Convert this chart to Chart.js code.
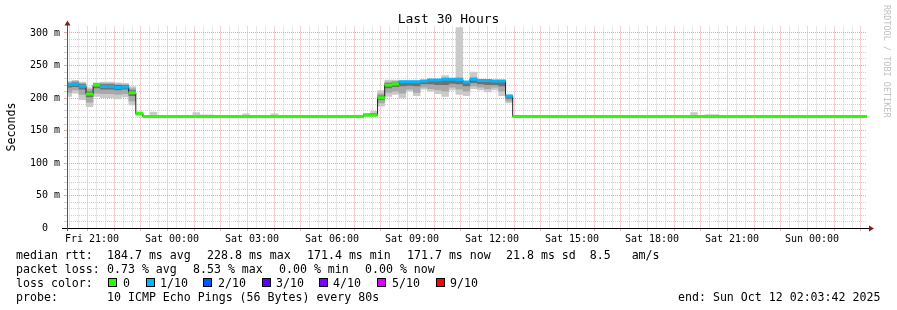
<!DOCTYPE html>
<html><head><meta charset="utf-8">
<script src="https://cdn.jsdelivr.net/npm/chart.js@4/dist/chart.umd.min.js"></script>
<style>
html,body{margin:0;padding:0;background:#fff;}
#wrap{position:relative;width:897px;height:310px;overflow:hidden;font-family:"DejaVu Sans Mono",monospace;color:#000;}
canvas{position:absolute;left:0;top:0;}
.t{position:absolute;white-space:pre;font-size:11.6px;line-height:14px;}
.box{position:absolute;width:7px;height:7px;border:1px solid #000;}
</style></head><body>
<div id="wrap">
<canvas id="c" width="897" height="310"></canvas>
<div class="t" style="left:0;width:897px;text-align:center;top:11px;font-size:13px;line-height:15px">Last 30 Hours</div>
<div class="t" style="left:-39px;width:100px;text-align:center;top:120px;transform:rotate(-90deg)">Seconds</div>
<div class="t" style="left:891px;top:5px;font-size:8.5px;line-height:8.5px;color:#c0c0c0;transform-origin:0 0;transform:rotate(90deg)">RRDTOOL / TOBI OETIKER</div>
<div id="legend"></div>
</div>
<script>
// ---- data (bins of 16 min; bin k=-1..111, first bin centre 2.8 min after window start Fri 20:03:42) ----
const median = [221,221,218,206,220,217.5,217.5,216,217,208,176.4,
 171.4,171.4,171.4,171.4,171.4,171.4,171.4,171.4,171.4,171.4,171.4,171.4,171.4,171.4,171.4,171.4,171.4,171.4,171.4,171.4,171.4,171.4,171.4,171.4,171.4,171.4,171.4,171.4,171.4,171.4,171.4,
 174,174,200.5,220,221.5,225,225,225,226,227.7,227.7,228.7,228.7,228,224.6,228.7,227,227,226,226,203,
 171.4,171.4,171.4,171.4,171.4,171.4,171.4,171.4,171.4,171.4,171.4,171.4,171.4,171.4,171.4,171.4,171.4,171.4,171.4,171.4,171.4,171.4,171.4,171.4,171.4,
 171.4,171.4,171.4,171.4,171.4,171.4,171.4,171.4,171.4,171.4,171.4,171.4,171.4,171.4,171.4,171.4,171.4,171.4,171.4,171.4,171.4,171.4,171.4,171.4,171.7];
const lossTenths = [1,1,1,0,0,1,1,1,1,0,0,
 0,0,0,0,0,0,0,0,0,0,0,0,0,0,0,0,0,0,0,0,0,0,0,0,0,0,0,0,0,0,0,
 0,0,0,0,0,1,1,1,1,1,1,1,1,1,1,1,1,1,1,1,1,
 0,0,0,0,0,0,0,0,0,0,0,0,0,0,0,0,0,0,0,0,0,0,0,0,0,
 0,0,0,0,0,0,0,0,0,0,0,0,0,0,0,0,0,0,0,0,0,0,0,0,0];
const smokeMin = [202,207,197,186,202,200,200,198,201,189,172,
 171,171,171,171,171,171,171,171,171,171,171,171,171,171,171,171,171,171,171,171,171,171,171,171,171,171,171,171,171,171,171,
 171,171,187,202,205,199.5,210,203,213,210,206,202,212,205,203,214,212,209,212,203,192,
 171,171,171,171,171,171,171,171,171,171,171,171,171,171,171,171,171,171,171,171,171,171,171,171,171,
 171,171,171,171,171,171,171,171,171,171,171,171,171,171,171,171,171,171,171,171,171,171,171,171,171];
const smokeMax = [226,227.7,225,216,224,225,225,224,223,218,179,
 172,179,172,172,172,172,172,178,174.5,174.5,172,172,172,172,176,172,172,172,176,172,172,172,172,172,172,174,172,172,172,172,172,
 177,180,212,228,228,227,227,227,228,229,229,235,230,309,226,240.5,229,229,228,228,205,
 172,174,172,172,172,172,172,172,172,172,172,172,172,172,172,172,172,172,172,172,172,172,172,172,172,
 178,172,175,175,172,172,172,172,172,174,172,172,172,172,172,172,172,172,172,172,172,174,174,172,172];
const smokeLo = [208,212,205,193,207,206,206,205,206,195,174,
 171,171,171,171,171,171,171,171,171,171,171,171,171,171,171,171,171,171,171,171,171,171,171,171,171,171,171,171,171,171,171,
 172,172,192,208,210,207,213,208,216,214,212,210,216,213,210,218,216,214,216,210,195,
 171,171,171,171,171,171,171,171,171,171,171,171,171,171,171,171,171,171,171,171,171,171,171,171,171,
 171,171,171,171,171,171,171,171,171,171,171,171,171,171,171,171,171,171,171,171,171,171,171,171,171];
const smokeHi = [224,226,223,214,223,223,223,222,221,215,178,
 172,172,172,172,172,172,172,172,172,172,172,172,172,172,172,172,172,172,172,172,172,172,172,172,172,172,172,172,172,172,172,
 176,177,207,225,226,226,226,226,227,228.5,228.5,231,229.5,232,225.5,232,228.5,228.5,227.5,227.5,204,
 172,172,172,172,172,172,172,172,172,172,172,172,172,172,172,172,172,172,172,172,172,172,172,172,172,
 172,172,172,172,172,172,172,172,172,172,172,172,172,172,172,172,172,172,172,172,172,172,172,172,172];
const coreLo = [216,217,213,201,215,213,213,212,213,203,175,
 171,171,171,171,171,171,171,171,171,171,171,171,171,171,171,171,171,171,171,171,171,171,171,171,171,171,171,171,171,171,171,
 173,173,197,215,217,218,219,218,221,221,220,220,222,221,218,223,221,220,220,218,199,
 171,171,171,171,171,171,171,171,171,171,171,171,171,171,171,171,171,171,171,171,171,171,171,171,171,
 171,171,171,171,171,171,171,171,171,171,171,171,171,171,171,171,171,171,171,171,171,171,171,171,171];
const coreHi = [223,224,221,210,222,221,221,220,220,212,177.5,
 172,172,172,172,172,172,172,172,172,172,172,172,172,172,172,172,172,172,172,172,172,172,172,172,172,172,172,172,172,172,172,
 175.5,176,204,223,224,226,226,226,227,228,228,229.5,229,230,225,230,228,228,227,227,203.5,
 172,172,172,172,172,172,172,172,172,172,172,172,172,172,172,172,172,172,172,172,172,172,172,172,172,
 172,172,172,172,172,172,172,172,172,172,172,172,172,172,172,172,172,172,172,172,172,172,172,172,172];
const lossColors = {0:'#26ff00',1:'#00b8ff',2:'#0059ff',3:'#5e00ff',4:'#7e00ff',5:'#dd00ff',9:'#ff0000'};
const lossLegend = [['0',0,108,123],['1/10',1,146,160],['2/10',2,203,218],['3/10',3,262,276],['4/10',4,319,333],['5/10',5,377,392],['9/10',9,436,450]];
const xTickLabels = ['Fri 21:00','Sat 00:00','Sat 03:00','Sat 06:00','Sat 09:00','Sat 12:00','Sat 15:00','Sat 18:00','Sat 21:00','Sun 00:00'];
const yTickValues = [0,10,20,30,40,50,60,70,80,90,100,110,120,130,140,150,160,170,180,190,200,210,220,230,240,250,260,270,280,290,300];
const legendRows = [
 [[16,'median rtt:'],[107,'184.7 ms avg'],[207,'228.8 ms max'],[307,'171.4 ms min'],[407,'171.7 ms now'],[506,'21.8 ms sd  8.5   am/s']],
 [[16,'packet loss:'],[107,'0.73 % avg'],[193,'8.53 % max'],[279,'0.00 % min'],[365,'0.00 % now']],
 [[16,'loss color:']],
 [[16,'probe:'],[107,'10 ICMP Echo Pings (56 Bytes) every 80s'],[678,'end: Sun Oct 12 02:03:42 2025']]
];
// window: 30 h = 1800 min; first 20-min grid tick at 20:20 (16.3 min), 21:00 at 56.3 min
const WINDOW_MIN = 1800, BIN_MIN = 16, FIRST_BIN_CENTRE = 2.8, FIRST_GRID = 16.3;

// ---- legend ----
const lg = document.getElementById('legend');
legendRows.forEach((row, r) => row.forEach(([x, s]) => {
  const d = document.createElement('div'); d.className = 't'; d.style.left = x + 'px'; d.style.top = (248 + 14 * r) + 'px'; d.textContent = s; lg.appendChild(d);
}));
lossLegend.forEach(([s, k, bx, tx]) => {
  const b = document.createElement('div'); b.className = 'box'; b.style.left = bx + 'px'; b.style.top = '278px'; b.style.background = lossColors[k]; lg.appendChild(b);
  const d = document.createElement('div'); d.className = 't'; d.style.left = tx + 'px'; d.style.top = '276px'; d.textContent = s; lg.appendChild(d);
});

// ---- chart ----
const times = median.map((_, i) => FIRST_BIN_CENTRE + BIN_MIN * i);
const band = (lo, hi) => times.map((t, i) => ({x: t, y: [lo[i], hi[i]]}));
const HALF = 2.3; // half thickness of the loss-coloured median band (ms)
const RED = '#eea3a3', GRAY = '#d0d0d0';

const axesPlugin = {
  id: 'rrdAxes',
  afterDraw(chart) {
    const {ctx, chartArea: a} = chart;
    ctx.save();
    ctx.strokeStyle = '#000'; ctx.lineWidth = 1;
    ctx.beginPath(); ctx.moveTo(62, a.bottom + 0.5); ctx.lineTo(870, a.bottom + 0.5); ctx.stroke();
    ctx.strokeStyle = '#555';
    ctx.beginPath(); ctx.moveTo(a.left + 0.5, a.bottom + 3); ctx.lineTo(a.left + 0.5, 23); ctx.stroke();
    ctx.fillStyle = '#7f1f1f';
    ctx.beginPath(); ctx.moveTo(a.left + 0.5, 20.5); ctx.lineTo(a.left - 2.5, 25.5); ctx.lineTo(a.left + 3.5, 25.5); ctx.closePath(); ctx.fill();
    ctx.beginPath(); ctx.moveTo(874, a.bottom + 0.5); ctx.lineTo(869, a.bottom - 2.5); ctx.lineTo(869, a.bottom + 3.5); ctx.closePath(); ctx.fill();
    ctx.restore();
  }
};

new Chart(document.getElementById('c'), {
  type: 'bar',
  data: {
    datasets: [
      {data: band(smokeMin, smokeMax), backgroundColor: '#cacaca', order: 10},
      {data: band(smokeLo, smokeHi), backgroundColor: '#a8a8a8', order: 9},
      {data: band(coreLo, coreHi), backgroundColor: '#707070', order: 8},
      {type: 'line', data: times.map((t, i) => ({x: t, y: median[i]})), stepped: 'middle', borderColor: '#202020', borderWidth: 1, pointRadius: 0, order: 2},
      {data: times.map((t, i) => ({x: t, y: [median[i] - HALF, median[i] + HALF]})), backgroundColor: lossTenths.map(k => lossColors[k]), order: 1}
    ]
  },
  options: {
    responsive: false, animation: false, events: [],
    layout: {padding: {left: 0, top: 26.5, right: 30, bottom: 0}},
    datasets: {bar: {grouped: false, barPercentage: 1.05, categoryPercentage: 1, borderWidth: 0}},
    plugins: {legend: {display: false}, tooltip: {enabled: false}},
    scales: {
      x: {
        type: 'linear', min: 0, max: WINDOW_MIN, offset: false,
        afterFit: s => { s.height = 82; },
        afterBuildTicks: s => { const t = []; for (let v = FIRST_GRID; v <= WINDOW_MIN; v += 20) t.push({value: v}); s.ticks = t; },
        grid: {
          color: c => (c.tick && Math.round((c.tick.value - FIRST_GRID) / 20) % 3 === 2) ? RED : GRAY,
          tickColor: c => (c.tick && Math.round((c.tick.value - FIRST_GRID) / 20) % 3 === 2) ? RED : 'rgba(0,0,0,0)',
          tickLength: 3, lineWidth: 1
        },
        border: {display: false, dash: [1, 1]},
        ticks: {
          autoSkip: false, maxRotation: 0, minRotation: 0, padding: 2, color: '#000',
          font: {family: 'DejaVu Sans Mono', size: 10},
          callback: v => { const j = Math.round((v - FIRST_GRID) / 20); return (j >= 2 && (j - 2) % 9 === 0) ? (xTickLabels[(j - 2) / 9] || '') : ''; }
        }
      },
      y: {
        type: 'linear', min: 0, max: 310,
        afterFit: s => { s.width = 67; },
        afterBuildTicks: s => { s.ticks = yTickValues.map(v => ({value: v})); },
        grid: {
          color: c => (c.tick && c.tick.value % 50 === 0) ? RED : GRAY,
          tickColor: c => (c.tick && c.tick.value % 50 === 0) ? RED : GRAY,
          tickLength: 3, lineWidth: 1
        },
        border: {display: false, dash: [1, 1]},
        ticks: {
          autoSkip: false, padding: 4, color: '#000', font: {family: 'DejaVu Sans Mono', size: 10},
          callback: v => v % 50 === 0 ? (v === 0 ? '0  ' : v + ' m') : ''
        }
      }
    }
  },
  plugins: [axesPlugin]
});
</script>
</body></html>
